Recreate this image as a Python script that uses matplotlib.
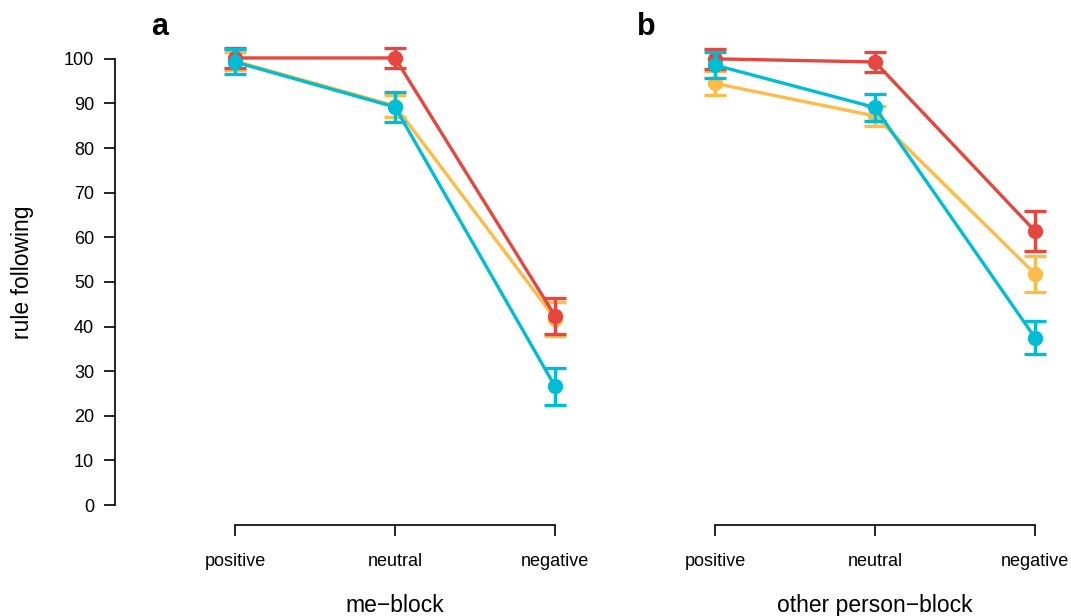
import matplotlib.pyplot as plt

plt.rcParams['font.family'] = ['Liberation Sans', 'DejaVu Sans']

conditions = ['positive', 'neutral', 'negative']
x = [1, 2, 3]

# panel a: me-block
a_red = [100.2, 100.2, 42.4]
a_red_err = [2.2, 2.2, 4.0]
a_yellow = [99.5, 89.5, 41.8]
a_yellow_err = [2.0, 2.5, 3.8]
a_cyan = [99.3, 89.2, 26.6]
a_cyan_err = [2.8, 3.4, 4.2]

# panel b: other person-block
b_red = [100.0, 99.3, 61.4]
b_red_err = [2.3, 2.2, 4.5]
b_yellow = [94.5, 87.2, 51.8]
b_yellow_err = [2.7, 2.2, 4.0]
b_cyan = [98.6, 89.1, 37.5]
b_cyan_err = [3.0, 3.0, 3.7]

red = '#E5473F'
yellow = '#FDBC48'
cyan = '#00BCD4'

W, H = 1071, 616
fig = plt.figure(figsize=(W / 100, H / 100), dpi=100)

def px_axes(left, bottom_px_from_top, width, height):
    return fig.add_axes([left / W, 1 - bottom_px_from_top / H, width / W, height / H])

ax_a = px_axes(115, 514, 480, 473)
ax_b = px_axes(595, 514, 480, 473)

panels = [
    (ax_a, [(a_yellow, a_yellow_err, yellow), (a_red, a_red_err, red), (a_cyan, a_cyan_err, cyan)], 'me\u2212block'),
    (ax_b, [(b_yellow, b_yellow_err, yellow), (b_red, b_red_err, red), (b_cyan, b_cyan_err, cyan)], 'other person\u2212block'),
]

for ax, series, label in panels:
    for i, (vals, errs, col) in enumerate(series):
        ax.errorbar(x, vals, yerr=errs, color=col, lw=2.4, marker='o', markersize=10,
                    capsize=8, capthick=2.4, elinewidth=2.4, zorder=3 + i, clip_on=False)
    ax.set_xlim(0.25, 3.25)
    ax.set_ylim(-2, 104)
    for s in ['top', 'right']:
        ax.spines[s].set_visible(False)
    ax.spines['bottom'].set_position(('outward', 8))
    ax.spines['bottom'].set_bounds(1, 3)
    ax.spines['bottom'].set_linewidth(1.2)
    ax.spines['left'].set_linewidth(1.2)
    ax.set_xticks(x)
    ax.set_xticklabels(conditions, fontsize=13)
    ax.tick_params(axis='x', length=8, width=1.2, pad=12)
    ax.set_xlabel(label, fontsize=16.5)
    ax.xaxis.set_label_coords((2 - 0.25) / 3.0, -0.17)
    ax.patch.set_alpha(0)

ax_a.spines['left'].set_bounds(0, 100)
ax_a.set_yticks(range(0, 101, 10))
ax_a.tick_params(axis='y', length=8, width=1.2, labelsize=13, pad=7)

ax_b.spines['left'].set_visible(False)
ax_b.set_yticks([])

fig.text(22 / W, 1 - 272 / H, 'rule following', fontsize=16.5, rotation=90, ha='center', va='center')
fig.text(160 / W, 1 - 27 / H, 'a', fontsize=22, fontweight='bold', ha='center', va='center')
fig.text(646 / W, 1 - 27 / H, 'b', fontsize=22, fontweight='bold', ha='center', va='center')

fig.savefig('out.png', dpi=100)
